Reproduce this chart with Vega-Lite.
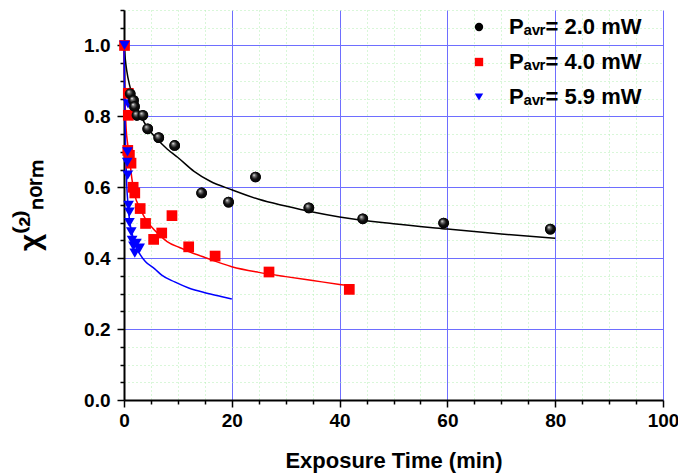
{
  "$schema": "https://vega.github.io/schema/vega-lite/v6.json",
  "width": 539,
  "height": 390,
  "autosize": {"type": "none"},
  "padding": {"left": 124, "top": 10, "right": 15, "bottom": 73},
  "background": "white",
  "config": {
    "view": {"stroke": null},
    "font": "Liberation Sans",
    "axis": {
      "domainColor": "black",
      "tickColor": "black",
      "labelColor": "black",
      "titleColor": "black",
      "labelFont": "Liberation Sans",
      "titleFont": "Liberation Sans",
      "labelFontWeight": "bold",
      "titleFontWeight": "bold"
    },
    "legend": {
      "orient": "none", "legendX": 344, "legendY": 6,
      "labelFont": "Liberation Sans",
      "labelFontSize": 22, "labelFontWeight": "bold", "labelColor": "black",
      "symbolSize": 70, "rowPadding": 13, "labelOffset": 19, "symbolStrokeWidth": 0
    }
  },
  "data": {
    "values": [
      {"s": "Pₐᵥᵣ= 2.0 mW", "k": "fit", "t": 0, "v": 1.0},
      {"s": "Pₐᵥᵣ= 2.0 mW", "k": "fit", "t": 0.25, "v": 0.96},
      {"s": "Pₐᵥᵣ= 2.0 mW", "k": "fit", "t": 0.5, "v": 0.93},
      {"s": "Pₐᵥᵣ= 2.0 mW", "k": "fit", "t": 1, "v": 0.89},
      {"s": "Pₐᵥᵣ= 2.0 mW", "k": "fit", "t": 1.5, "v": 0.862},
      {"s": "Pₐᵥᵣ= 2.0 mW", "k": "fit", "t": 2, "v": 0.84},
      {"s": "Pₐᵥᵣ= 2.0 mW", "k": "fit", "t": 3, "v": 0.805},
      {"s": "Pₐᵥᵣ= 2.0 mW", "k": "fit", "t": 4.5, "v": 0.765},
      {"s": "Pₐᵥᵣ= 2.0 mW", "k": "fit", "t": 6, "v": 0.738},
      {"s": "Pₐᵥᵣ= 2.0 mW", "k": "fit", "t": 8, "v": 0.708},
      {"s": "Pₐᵥᵣ= 2.0 mW", "k": "fit", "t": 10, "v": 0.684},
      {"s": "Pₐᵥᵣ= 2.0 mW", "k": "fit", "t": 13, "v": 0.645},
      {"s": "Pₐᵥᵣ= 2.0 mW", "k": "fit", "t": 16, "v": 0.617},
      {"s": "Pₐᵥᵣ= 2.0 mW", "k": "fit", "t": 20, "v": 0.593},
      {"s": "Pₐᵥᵣ= 2.0 mW", "k": "fit", "t": 25, "v": 0.566},
      {"s": "Pₐᵥᵣ= 2.0 mW", "k": "fit", "t": 30, "v": 0.547},
      {"s": "Pₐᵥᵣ= 2.0 mW", "k": "fit", "t": 35, "v": 0.53},
      {"s": "Pₐᵥᵣ= 2.0 mW", "k": "fit", "t": 40, "v": 0.516},
      {"s": "Pₐᵥᵣ= 2.0 mW", "k": "fit", "t": 50, "v": 0.497},
      {"s": "Pₐᵥᵣ= 2.0 mW", "k": "fit", "t": 60, "v": 0.482},
      {"s": "Pₐᵥᵣ= 2.0 mW", "k": "fit", "t": 70, "v": 0.468},
      {"s": "Pₐᵥᵣ= 2.0 mW", "k": "fit", "t": 80, "v": 0.456},
      {"s": "Pₐᵥᵣ= 4.0 mW", "k": "fit", "t": 0, "v": 1.0},
      {"s": "Pₐᵥᵣ= 4.0 mW", "k": "fit", "t": 0.1, "v": 0.9},
      {"s": "Pₐᵥᵣ= 4.0 mW", "k": "fit", "t": 0.2, "v": 0.84},
      {"s": "Pₐᵥᵣ= 4.0 mW", "k": "fit", "t": 0.4, "v": 0.765},
      {"s": "Pₐᵥᵣ= 4.0 mW", "k": "fit", "t": 0.7, "v": 0.72},
      {"s": "Pₐᵥᵣ= 4.0 mW", "k": "fit", "t": 1, "v": 0.685},
      {"s": "Pₐᵥᵣ= 4.0 mW", "k": "fit", "t": 1.5, "v": 0.62},
      {"s": "Pₐᵥᵣ= 4.0 mW", "k": "fit", "t": 2, "v": 0.578},
      {"s": "Pₐᵥᵣ= 4.0 mW", "k": "fit", "t": 3, "v": 0.54},
      {"s": "Pₐᵥᵣ= 4.0 mW", "k": "fit", "t": 4, "v": 0.51},
      {"s": "Pₐᵥᵣ= 4.0 mW", "k": "fit", "t": 5, "v": 0.49},
      {"s": "Pₐᵥᵣ= 4.0 mW", "k": "fit", "t": 6.6, "v": 0.465},
      {"s": "Pₐᵥᵣ= 4.0 mW", "k": "fit", "t": 8, "v": 0.447},
      {"s": "Pₐᵥᵣ= 4.0 mW", "k": "fit", "t": 10.3, "v": 0.43},
      {"s": "Pₐᵥᵣ= 4.0 mW", "k": "fit", "t": 12, "v": 0.419},
      {"s": "Pₐᵥᵣ= 4.0 mW", "k": "fit", "t": 15, "v": 0.402},
      {"s": "Pₐᵥᵣ= 4.0 mW", "k": "fit", "t": 20, "v": 0.376},
      {"s": "Pₐᵥᵣ= 4.0 mW", "k": "fit", "t": 25, "v": 0.36},
      {"s": "Pₐᵥᵣ= 4.0 mW", "k": "fit", "t": 30, "v": 0.348},
      {"s": "Pₐᵥᵣ= 4.0 mW", "k": "fit", "t": 35, "v": 0.337},
      {"s": "Pₐᵥᵣ= 4.0 mW", "k": "fit", "t": 40, "v": 0.326},
      {"s": "Pₐᵥᵣ= 4.0 mW", "k": "fit", "t": 42, "v": 0.322},
      {"s": "Pₐᵥᵣ= 5.9 mW", "k": "fit", "t": 0, "v": 1.0},
      {"s": "Pₐᵥᵣ= 5.9 mW", "k": "fit", "t": 0.1, "v": 0.88},
      {"s": "Pₐᵥᵣ= 5.9 mW", "k": "fit", "t": 0.2, "v": 0.78},
      {"s": "Pₐᵥᵣ= 5.9 mW", "k": "fit", "t": 0.35, "v": 0.68},
      {"s": "Pₐᵥᵣ= 5.9 mW", "k": "fit", "t": 0.5, "v": 0.61},
      {"s": "Pₐᵥᵣ= 5.9 mW", "k": "fit", "t": 0.75, "v": 0.55},
      {"s": "Pₐᵥᵣ= 5.9 mW", "k": "fit", "t": 1, "v": 0.51},
      {"s": "Pₐᵥᵣ= 5.9 mW", "k": "fit", "t": 1.5, "v": 0.47},
      {"s": "Pₐᵥᵣ= 5.9 mW", "k": "fit", "t": 2, "v": 0.44},
      {"s": "Pₐᵥᵣ= 5.9 mW", "k": "fit", "t": 3, "v": 0.41},
      {"s": "Pₐᵥᵣ= 5.9 mW", "k": "fit", "t": 4, "v": 0.39},
      {"s": "Pₐᵥᵣ= 5.9 mW", "k": "fit", "t": 5.7, "v": 0.37},
      {"s": "Pₐᵥᵣ= 5.9 mW", "k": "fit", "t": 7, "v": 0.352},
      {"s": "Pₐᵥᵣ= 5.9 mW", "k": "fit", "t": 9.4, "v": 0.333},
      {"s": "Pₐᵥᵣ= 5.9 mW", "k": "fit", "t": 12, "v": 0.316},
      {"s": "Pₐᵥᵣ= 5.9 mW", "k": "fit", "t": 15.2, "v": 0.302},
      {"s": "Pₐᵥᵣ= 5.9 mW", "k": "fit", "t": 18, "v": 0.292},
      {"s": "Pₐᵥᵣ= 5.9 mW", "k": "fit", "t": 20, "v": 0.285},
      {"s": "Pₐᵥᵣ= 2.0 mW", "k": "data", "t": 1.15, "v": 0.864},
      {"s": "Pₐᵥᵣ= 2.0 mW", "k": "data", "t": 1.76, "v": 0.845},
      {"s": "Pₐᵥᵣ= 2.0 mW", "k": "data", "t": 1.95, "v": 0.828},
      {"s": "Pₐᵥᵣ= 2.0 mW", "k": "data", "t": 2.4, "v": 0.803},
      {"s": "Pₐᵥᵣ= 2.0 mW", "k": "data", "t": 3.5, "v": 0.803},
      {"s": "Pₐᵥᵣ= 2.0 mW", "k": "data", "t": 4.4, "v": 0.765},
      {"s": "Pₐᵥᵣ= 2.0 mW", "k": "data", "t": 6.45, "v": 0.74},
      {"s": "Pₐᵥᵣ= 2.0 mW", "k": "data", "t": 9.4, "v": 0.718},
      {"s": "Pₐᵥᵣ= 2.0 mW", "k": "data", "t": 14.4, "v": 0.584},
      {"s": "Pₐᵥᵣ= 2.0 mW", "k": "data", "t": 19.4, "v": 0.558},
      {"s": "Pₐᵥᵣ= 2.0 mW", "k": "data", "t": 24.4, "v": 0.629},
      {"s": "Pₐᵥᵣ= 2.0 mW", "k": "data", "t": 34.3, "v": 0.542},
      {"s": "Pₐᵥᵣ= 2.0 mW", "k": "data", "t": 44.3, "v": 0.511},
      {"s": "Pₐᵥᵣ= 2.0 mW", "k": "data", "t": 59.3, "v": 0.499},
      {"s": "Pₐᵥᵣ= 2.0 mW", "k": "data", "t": 79.1, "v": 0.482},
      {"s": "Pₐᵥᵣ= 4.0 mW", "k": "data", "t": 0.1, "v": 1.0},
      {"s": "Pₐᵥᵣ= 4.0 mW", "k": "data", "t": 0.8, "v": 0.865},
      {"s": "Pₐᵥᵣ= 4.0 mW", "k": "data", "t": 0.8, "v": 0.803},
      {"s": "Pₐᵥᵣ= 4.0 mW", "k": "data", "t": 0.7, "v": 0.704},
      {"s": "Pₐᵥᵣ= 4.0 mW", "k": "data", "t": 1.0, "v": 0.69},
      {"s": "Pₐᵥᵣ= 4.0 mW", "k": "data", "t": 1.3, "v": 0.668},
      {"s": "Pₐᵥᵣ= 4.0 mW", "k": "data", "t": 1.7, "v": 0.6},
      {"s": "Pₐᵥᵣ= 4.0 mW", "k": "data", "t": 2.0, "v": 0.584},
      {"s": "Pₐᵥᵣ= 4.0 mW", "k": "data", "t": 3.0, "v": 0.54},
      {"s": "Pₐᵥᵣ= 4.0 mW", "k": "data", "t": 4.0, "v": 0.498},
      {"s": "Pₐᵥᵣ= 4.0 mW", "k": "data", "t": 5.5, "v": 0.453},
      {"s": "Pₐᵥᵣ= 4.0 mW", "k": "data", "t": 7.0, "v": 0.471},
      {"s": "Pₐᵥᵣ= 4.0 mW", "k": "data", "t": 8.9, "v": 0.52},
      {"s": "Pₐᵥᵣ= 4.0 mW", "k": "data", "t": 12.0, "v": 0.432},
      {"s": "Pₐᵥᵣ= 4.0 mW", "k": "data", "t": 16.9, "v": 0.406},
      {"s": "Pₐᵥᵣ= 4.0 mW", "k": "data", "t": 26.9, "v": 0.361},
      {"s": "Pₐᵥᵣ= 4.0 mW", "k": "data", "t": 41.8, "v": 0.312},
      {"s": "Pₐᵥᵣ= 5.9 mW", "k": "data", "t": 0.1, "v": 1.0},
      {"s": "Pₐᵥᵣ= 5.9 mW", "k": "data", "t": 0.75, "v": 0.835},
      {"s": "Pₐᵥᵣ= 5.9 mW", "k": "data", "t": 0.65, "v": 0.7},
      {"s": "Pₐᵥᵣ= 5.9 mW", "k": "data", "t": 0.6, "v": 0.67},
      {"s": "Pₐᵥᵣ= 5.9 mW", "k": "data", "t": 0.7, "v": 0.634},
      {"s": "Pₐᵥᵣ= 5.9 mW", "k": "data", "t": 0.85, "v": 0.549},
      {"s": "Pₐᵥᵣ= 5.9 mW", "k": "data", "t": 1.0, "v": 0.53},
      {"s": "Pₐᵥᵣ= 5.9 mW", "k": "data", "t": 1.0, "v": 0.5},
      {"s": "Pₐᵥᵣ= 5.9 mW", "k": "data", "t": 1.35, "v": 0.474},
      {"s": "Pₐᵥᵣ= 5.9 mW", "k": "data", "t": 1.5, "v": 0.45},
      {"s": "Pₐᵥᵣ= 5.9 mW", "k": "data", "t": 1.75, "v": 0.434},
      {"s": "Pₐᵥᵣ= 5.9 mW", "k": "data", "t": 2.3, "v": 0.442},
      {"s": "Pₐᵥᵣ= 5.9 mW", "k": "data", "t": 2.0, "v": 0.414},
      {"s": "Pₐᵥᵣ= 5.9 mW", "k": "data", "t": 2.9, "v": 0.428}
    ]
  },
  "layer": [
    {
      "transform": [{"filter": "datum.k == 'fit'"}],
      "mark": {"type": "line", "strokeWidth": 1.5, "interpolate": "monotone"},
      "encoding": {
        "x": {
          "field": "t", "type": "quantitative",
          "scale": {"domain": [0, 100], "nice": false, "zero": false},
          "axis": {
            "orient": "bottom", "title": null, "labels": false, "domain": false,
            "values": [5, 10, 15, 25, 30, 35, 45, 50, 55, 65, 70, 75, 85, 90, 95],
            "tickSize": 4, "tickWidth": 1.5,
            "grid": true, "gridColor": "#b3efb3", "gridDash": [1, 3], "gridWidth": 1
          }
        },
        "y": {
          "field": "v", "type": "quantitative",
          "scale": {"domain": [0, 1.1], "nice": false, "zero": false},
          "axis": {
            "orient": "left", "title": null, "labels": false, "domain": false,
            "values": [0.05, 0.1, 0.15, 0.25, 0.3, 0.35, 0.45, 0.5, 0.55, 0.65, 0.7, 0.75, 0.85, 0.9, 0.95, 1.05, 1.1],
            "tickSize": 4, "tickWidth": 1.5,
            "grid": true, "gridColor": "#b3efb3", "gridDash": [1, 3], "gridWidth": 1
          }
        },
        "stroke": {
          "field": "s", "type": "nominal",
          "scale": {"domain": ["Pₐᵥᵣ= 5.9 mW", "Pₐᵥᵣ= 4.0 mW", "Pₐᵥᵣ= 2.0 mW"], "range": ["blue", "red", "black"]},
          "legend": null
        }
      }
    },
    {
      "transform": [{"filter": "datum.k == 'data'"}],
      "mark": {"type": "point", "filled": true, "opacity": 1, "size": 115},
      "encoding": {
        "x": {
          "field": "t", "type": "quantitative",
          "axis": {
            "orient": "bottom", "values": [0, 20, 40, 60, 80, 100],
            "title": "Exposure Time (min)", "titleFontSize": 22, "titlePadding": 20,
            "labelFontSize": 19, "labelPadding": 4, "labelFlush": false,
            "tickSize": 7, "tickWidth": 1.5, "domainWidth": 2,
            "grid": true, "gridColor": "#6e6eff", "gridWidth": 1
          }
        },
        "y": {
          "field": "v", "type": "quantitative",
          "axis": {
            "orient": "left", "values": [0, 0.2, 0.4, 0.6, 0.8, 1.0], "format": ".1f",
            "title": "χ⁽²⁾ₙₒᵣₘ", "titleFontSize": 30, "titlePadding": 38,
            "labelFontSize": 19, "labelPadding": 7, "labelFlush": false,
            "tickSize": 7, "tickWidth": 1.5, "domainWidth": 2,
            "grid": true, "gridColor": "#6e6eff", "gridWidth": 1
          }
        },
        "fill": {
          "field": "s", "type": "nominal",
          "scale": {"domain": ["Pₐᵥᵣ= 2.0 mW", "Pₐᵥᵣ= 4.0 mW", "Pₐᵥᵣ= 5.9 mW"], "range": ["black", "red", "blue"]},
          "legend": {"title": null}
        },
        "shape": {
          "field": "s", "type": "nominal",
          "scale": {"domain": ["Pₐᵥᵣ= 2.0 mW", "Pₐᵥᵣ= 4.0 mW", "Pₐᵥᵣ= 5.9 mW"], "range": ["circle", "square", "triangle-down"]},
          "legend": {"title": null}
        }
      }
    },
    {
      "transform": [{"filter": "datum.k == 'data' && datum.s == 'Pₐᵥᵣ= 2.0 mW'"}],
      "mark": {
        "type": "point", "shape": "circle", "filled": true, "opacity": 1, "size": 115,
        "fill": {
          "gradient": "radial", "x1": 0.35, "y1": 0.3, "r1": 0, "x2": 0.5, "y2": 0.5, "r2": 0.55,
          "stops": [
            {"offset": 0, "color": "#ffffff"},
            {"offset": 0.22, "color": "#777777"},
            {"offset": 0.55, "color": "#111111"},
            {"offset": 1, "color": "#000000"}
          ]
        }
      },
      "encoding": {
        "x": {"field": "t", "type": "quantitative", "axis": null},
        "y": {"field": "v", "type": "quantitative", "axis": null}
      }
    }
  ],
  "resolve": {"axis": {"x": "independent", "y": "independent"}}
}
